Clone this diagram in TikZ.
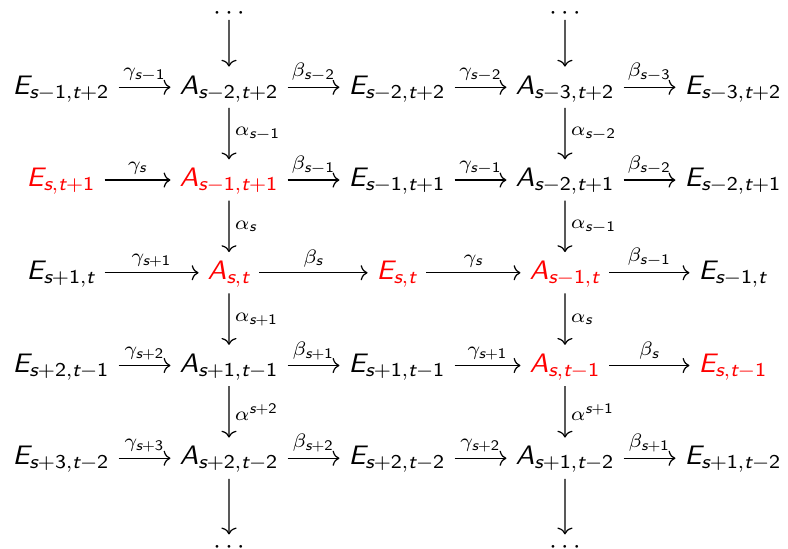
\documentclass[tikz,border=0pt]{standalone}
\usepackage{tikz}
\usetikzlibrary{arrows.meta}

% sans oblique letters and sans digits in math, greek stays as it is
\DeclareSymbolFont{sfslanted}{TU}{lmss}{m}{sl}
\SetSymbolFont{operators}{normal}{OT1}{cmss}{m}{n}
\DeclareMathSymbol{E}{\mathalpha}{sfslanted}{`E}
\DeclareMathSymbol{A}{\mathalpha}{sfslanted}{`A}
\DeclareMathSymbol{s}{\mathalpha}{sfslanted}{`s}
\DeclareMathSymbol{t}{\mathalpha}{sfslanted}{`t}

\tikzset{
  obj/.style={inner sep=0.3333em, text height=7.7pt, text depth=2.2pt, xscale=1.06,
    execute at begin node=$, execute at end node=$},
  hl/.style={obj, text=red},
  lbl/.style={inner sep=0.5ex, xscale=1.06,
    execute at begin node=$\scriptstyle, execute at end node=$},
  dotsnode/.style={inner sep=0pt, text height=7.7pt, text depth=0pt, anchor=base},
  map/.style={-{To[length=2.8pt,width=6.2pt]}, line width=0.5pt}
}

\begin{document}
\begin{tikzpicture}[x=2.420cm,y=1.336cm,font=\fontsize{10.95}{13.6}\selectfont]
\useasboundingbox (-0.879cm,-6.651cm) rectangle (10.473cm,1.2576cm);

% Row 1
\node[obj] (e11) at (0,0) {E_{s-1,t+2}};
\node[obj] (a12) at (1,0) {A_{s-2,t+2}};
\node[obj] (e13) at (2,0) {E_{s-2,t+2}};
\node[obj] (a14) at (3,0) {A_{s-3,t+2}};
\node[obj] (e15) at (4,0) {E_{s-3,t+2}};

% Row 2
\node[hl] (e21) at (0,-1) {E_{s,t+1}};
\node[hl] (a22) at (1,-1) {A_{s-1,t+1}};
\node[obj] (e23) at (2,-1) {E_{s-1,t+1}};
\node[obj] (a24) at (3,-1) {A_{s-2,t+1}};
\node[obj] (e25) at (4,-1) {E_{s-2,t+1}};

% Row 3
\node[obj] (e31) at (0,-2) {E_{s+1,t}};
\node[hl] (a32) at (1,-2) {A_{s,t}};
\node[hl] (e33) at (2,-2) {E_{s,t}};
\node[hl] (a34) at (3,-2) {A_{s-1,t}};
\node[obj] (e35) at (4,-2) {E_{s-1,t}};

% Row 4
\node[obj] (e41) at (0,-3) {E_{s+2,t-1}};
\node[obj] (a42) at (1,-3) {A_{s+1,t-1}};
\node[obj] (e43) at (2,-3) {E_{s+1,t-1}};
\node[hl] (a44) at (3,-3) {A_{s,t-1}};
\node[hl] (e45) at (4,-3) {E_{s,t-1}};

% Row 5
\node[obj] (e51) at (0,-4) {E_{s+3,t-2}};
\node[obj] (a52) at (1,-4) {A_{s+2,t-2}};
\node[obj] (e53) at (2,-4) {E_{s+2,t-2}};
\node[obj] (a54) at (3,-4) {A_{s+1,t-2}};
\node[obj] (e55) at (4,-4) {E_{s+1,t-2}};

% Dots
\node[dotsnode,text height=4pt] (dt2) at (1,0.732) {$\cdots$};
\node[dotsnode,text height=4pt] (dt4) at (3,0.732) {$\cdots$};
\node[dotsnode] (db2) at (1,-5.029) {$\cdots$};
\node[dotsnode] (db4) at (3,-5.029) {$\cdots$};

% Horizontal maps
\draw[map] (e11) -- node[lbl,above] {\gamma_{s-1}} (a12);
\draw[map] (a12) -- node[lbl,above] {\beta_{s-2}} (e13);
\draw[map] (e13) -- node[lbl,above] {\gamma_{s-2}} (a14);
\draw[map] (a14) -- node[lbl,above] {\beta_{s-3}} (e15);

\draw[map] (e21) -- node[lbl,above] {\gamma_{s}} (a22);
\draw[map] (a22) -- node[lbl,above] {\beta_{s-1}} (e23);
\draw[map] (e23) -- node[lbl,above] {\gamma_{s-1}} (a24);
\draw[map] (a24) -- node[lbl,above] {\beta_{s-2}} (e25);

\draw[map] (e31) -- node[lbl,above] {\gamma_{s+1}} (a32);
\draw[map] (a32) -- node[lbl,above] {\beta_{s}} (e33);
\draw[map] (e33) -- node[lbl,above] {\gamma_{s}} (a34);
\draw[map] (a34) -- node[lbl,above] {\beta_{s-1}} (e35);

\draw[map] (e41) -- node[lbl,above] {\gamma_{s+2}} (a42);
\draw[map] (a42) -- node[lbl,above] {\beta_{s+1}} (e43);
\draw[map] (e43) -- node[lbl,above] {\gamma_{s+1}} (a44);
\draw[map] (a44) -- node[lbl,above] {\beta_{s}} (e45);

\draw[map] (e51) -- node[lbl,above] {\gamma_{s+3}} (a52);
\draw[map] (a52) -- node[lbl,above] {\beta_{s+2}} (e53);
\draw[map] (e53) -- node[lbl,above] {\gamma_{s+2}} (a54);
\draw[map] (a54) -- node[lbl,above] {\beta_{s+1}} (e55);

% Vertical maps
\draw[map] (dt2) -- (a12);
\draw[map] (a12) -- node[lbl,right] {\alpha_{s-1}} (a22);
\draw[map] (a22) -- node[lbl,right] {\alpha_{s}} (a32);
\draw[map] (a32) -- node[lbl,right] {\alpha_{s+1}} (a42);
\draw[map] (a42) -- node[lbl,right] {\alpha^{s+2}} (a52);
\draw[map] (a52) -- (db2);

\draw[map] (dt4) -- (a14);
\draw[map] (a14) -- node[lbl,right] {\alpha_{s-2}} (a24);
\draw[map] (a24) -- node[lbl,right] {\alpha_{s-1}} (a34);
\draw[map] (a34) -- node[lbl,right] {\alpha_{s}} (a44);
\draw[map] (a44) -- node[lbl,right] {\alpha^{s+1}} (a54);
\draw[map] (a54) -- (db4);

\end{tikzpicture}
\end{document}
